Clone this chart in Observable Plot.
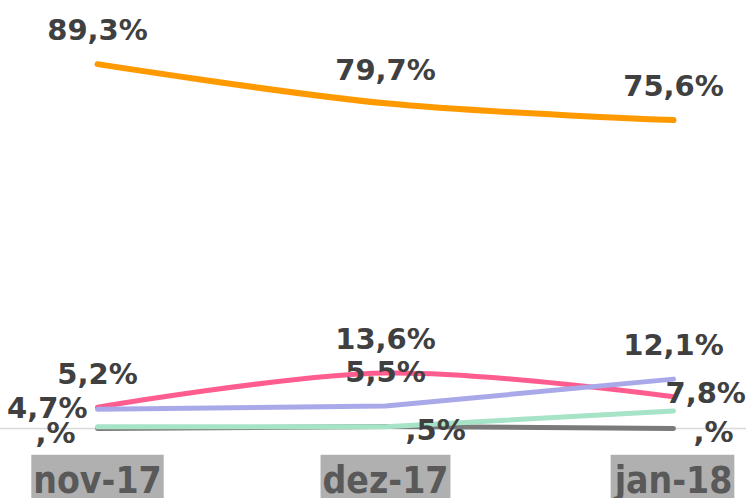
<!DOCTYPE html>
<html>
<head>
<meta charset="utf-8">
<script src="https://cdn.jsdelivr.net/npm/d3@7"></script>
<script src="https://cdn.jsdelivr.net/npm/@observablehq/plot@0.6"></script>
<style>
  html, body { margin: 0; padding: 0; background: #ffffff; }
  #chart { width: 746px; height: 498px; overflow: hidden; }
</style>
</head>
<body>
<div id="chart"></div>
<script>
// ---- data ----
const months = ["nov-17", "dez-17", "jan-18"];
const seriesNames = ["Série 1", "Série 2", "Série 3", "Série 4", "Série 5"];
const series1Values = [89.3, 79.7, 75.6]; // orange
const series2Values = [5.2, 13.6, 7.8];   // pink
const series3Values = [4.7, 5.5, 12.1];   // lavender
const series4Values = [0.4, 0.4, 4.3];    // green (no labels)
const series5Values = [0, 0.5, 0];        // grey

// ---- style config ----
const colors = ["#ff9900", "#ff5c8f", "#a9a9e9", "#a6e3c7", "#7a7a7a"];
const widths = [6, 5, 5, 5, 5];
const curves = ["catmull-rom", "catmull-rom", "linear", "linear", "linear"];
const labelPlacement = [
  ["top", "top", "top"],
  ["top", "top", "right"],
  ["left", "top", "top"],
  null,
  ["leftLow", "rightLow", "rightLow"]
];
const placements = {
  top:      {textAnchor: "middle", dx: 0,   dy: -33},
  left:     {textAnchor: "end",    dx: -10, dy: -1},
  right:    {textAnchor: "start",  dx: -8,  dy: -3},
  leftLow:  {textAnchor: "end",    dx: -22, dy: 5},
  rightLow: {textAnchor: "start",  dx: 20,  dy: 4}
};

// Excel-like "#,#%" number format
function fmt(v) {
  const r = Math.round(v * 10) / 10;
  const i = Math.floor(r);
  const d = Math.round((r - i) * 10);
  return (i ? String(i) : "") + "," + (d ? String(d) : "") + "%";
}

const allValues = [series1Values, series2Values, series3Values, series4Values, series5Values];
const rows = [];
allValues.forEach((vals, s) => {
  vals.forEach((v, m) => {
    rows.push({
      series: seriesNames[s], idx: s, month: months[m], value: v,
      pos: labelPlacement[s] ? labelPlacement[s][m] : null
    });
  });
});

// draw order: grey, green, pink, lavender, orange
const drawOrder = [4, 3, 1, 2, 0];
const lineMarks = drawOrder.map(s => Plot.line(rows.filter(d => d.idx === s), {
  x: "month", y: "value", stroke: colors[s], strokeWidth: widths[s],
  curve: curves[s], strokeLinecap: "round", strokeLinejoin: "round"
}));

const labelMarks = Object.entries(placements).map(([key, p]) => Plot.text(rows.filter(d => d.pos === key), {
  x: "month", y: "value", text: d => fmt(d.value),
  textAnchor: p.textAnchor, dx: p.dx, dy: p.dy,
  fill: "#404040", fontSize: 29, fontWeight: "bold"
}));

const chart = Plot.plot({
  width: 746,
  height: 498,
  marginLeft: 96,
  marginRight: 73,
  marginTop: 20,
  marginBottom: 70,
  style: {background: "#ffffff", fontFamily: "'DejaVu Sans', Verdana, sans-serif", overflow: "visible"},
  x: {type: "point", domain: months, padding: 0, label: null},
  y: {domain: [0, 100], axis: null},
  marks: [
    Plot.ruleY([0], {stroke: "#d9d9d9", strokeWidth: 1.5, insetLeft: -96, insetRight: -73}),
    ...lineMarks,
    ...labelMarks,
    Plot.axisX({tickSize: 0, tickPadding: 38, fontSize: 37, fontWeight: "bold", fill: "#595959", label: null})
  ]
});

document.getElementById("chart").append(chart);

// grey boxes behind the month labels
const axisG = d3.select(chart).select('g[aria-label="x-axis tick label"]');
axisG.attr("font-family", "'DejaVu Sans Condensed', 'DejaVu Sans', sans-serif")
     .attr("font-stretch", "condensed");
axisG.selectAll("text").each(function() {
  const t = d3.select(this);
  const bb = this.getBBox();
  this.parentNode.insertBefore(document.createElementNS("http://www.w3.org/2000/svg", "rect"), this);
  d3.select(this.previousSibling)
    .attr("transform", t.attr("transform"))
    .attr("x", bb.x - 2)
    .attr("y", bb.y - 4)
    .attr("width", bb.width + 4)
    .attr("height", bb.height + 12)
    .attr("fill", "#b0b0b0");
});
</script>
</body>
</html>
